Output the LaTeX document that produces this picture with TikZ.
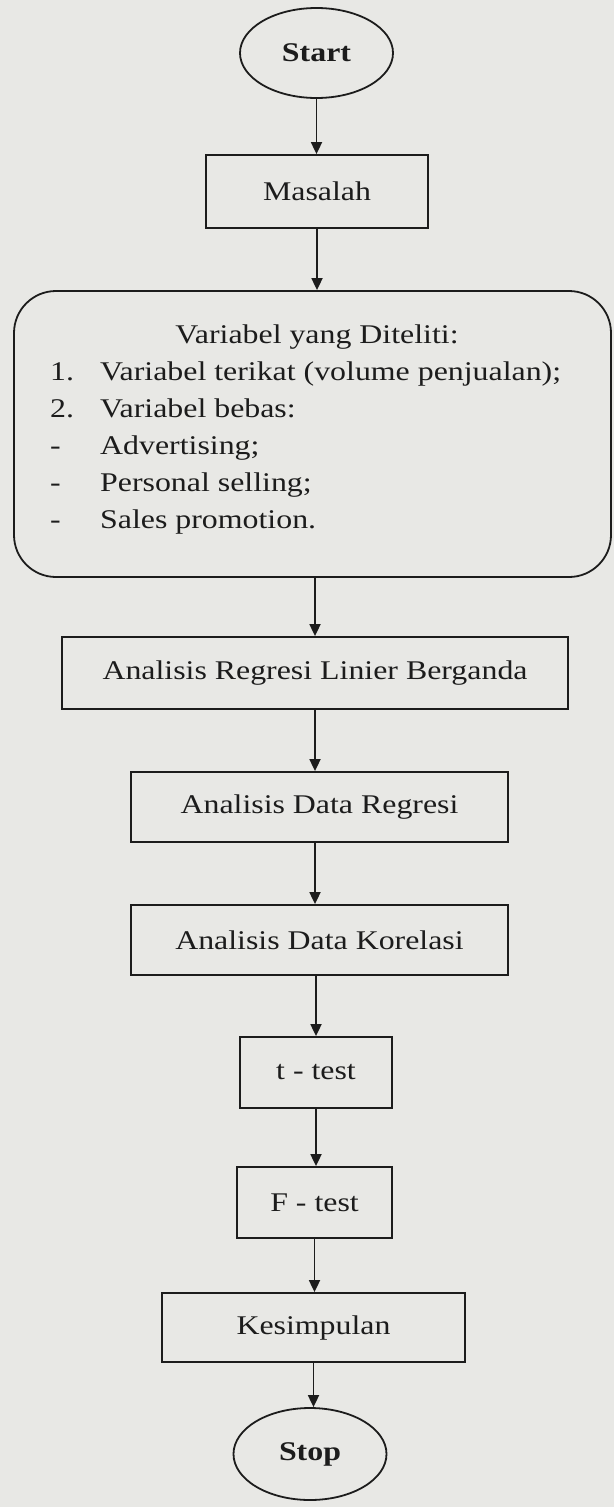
\documentclass[tikz,border=0pt]{standalone}
\usepackage{fontspec}
\setmainfont{Liberation Serif}[FakeStretch=1.18]
\usetikzlibrary{shapes.geometric,arrows.meta}
\definecolor{bg}{RGB}{232,232,229}
\definecolor{ink}{RGB}{28,28,28}
\tikzset{
  box/.style={draw=ink, line width=1.8pt, rectangle, inner sep=0pt, text=ink,
              font=\fontsize{27}{32}\selectfont},
  term/.style={draw=ink, line width=1.8pt, ellipse, inner sep=0pt, text=ink,
               font=\fontsize{27}{32}\selectfont\bfseries},
  roundbox/.style={draw=ink, line width=1.8pt, rectangle, rounded corners=42pt, inner sep=0pt},
  line/.style={text=ink, inner sep=0pt, font=\fontsize{27}{32}\selectfont},
  arr/.style={draw=ink, line width=1.8pt, -{Triangle[length=12pt,width=11pt]}}
}
\begin{document}
\begin{tikzpicture}[x=1pt,y=-1pt]
\path[use as bounding box, fill=bg] (0,0) rectangle (614,1507);

\node[term, minimum width=153pt, minimum height=90pt] (start) at (316.5,53) {Start};
\node[box, minimum width=222pt, minimum height=73pt] (masalah) at (317,191.5) {Masalah};
\node[roundbox, minimum width=597pt, minimum height=286pt] (vars) at (312.5,434) {};
\node[line, anchor=base] (v0) at (317,343) {Variabel yang Diteliti:};
\node[line, anchor=base west] (n1) at (50,380) {1.};
\node[line, anchor=base west] (v1) at (100,380) {Variabel terikat (volume penjualan);};
\node[line, anchor=base west] (n2) at (50,417) {2.};
\node[line, anchor=base west] (v2) at (100,417) {Variabel bebas:};
\node[line, anchor=base west] (n3) at (50,454) {-};
\node[line, anchor=base west] (v3) at (100,454) {Advertising;};
\node[line, anchor=base west] (n4) at (50,491) {-};
\node[line, anchor=base west] (v4) at (100,491) {Personal selling;};
\node[line, anchor=base west] (n5) at (50,528) {-};
\node[line, anchor=base west] (v5) at (100,528) {Sales promotion.};
\node[box, minimum width=506pt, minimum height=72pt] (reg) at (315,673) {Analisis Regresi Linier Berganda};
\node[box, minimum width=377pt, minimum height=70pt] (dreg) at (319.5,807) {Analisis Data Regresi};
\node[box, minimum width=377pt, minimum height=70pt] (kor) at (319.5,940) {Analisis Data Korelasi};
\node[box, minimum width=152pt, minimum height=71pt] (tt) at (316,1072.5) {t - test};
\node[box, minimum width=155pt, minimum height=71pt] (ft) at (314.5,1202.5) {F - test};
\node[box, minimum width=303pt, minimum height=69pt] (kes) at (313.5,1327.5) {Kesimpulan};
\node[term, minimum width=153pt, minimum height=92pt] (stop) at (310,1454) {Stop};

\draw[arr] (start.south) -- (start.south |- masalah.north);
\draw[arr] (masalah.south) -- (masalah.south |- vars.north);
\draw[arr] (reg.north |- vars.south) -- (reg.north);
\draw[arr] (reg.south) -- (reg.south |- dreg.north);
\draw[arr] (reg.south |- dreg.south) -- (reg.south |- kor.north);
\draw[arr] (tt.north |- kor.south) -- (tt.north);
\draw[arr] (tt.south) -- (tt.south |- ft.north);
\draw[arr] (ft.south) -- (ft.south |- kes.north);
\draw[arr] (kes.south) -- (kes.south |- stop.north);
\end{tikzpicture}
\end{document}
